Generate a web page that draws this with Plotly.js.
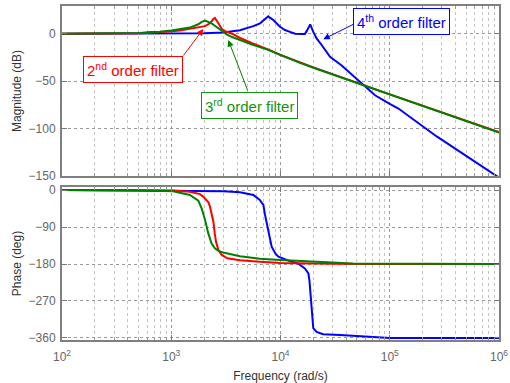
<!DOCTYPE html>
<html>
<head>
<meta charset="utf-8">
<script src="https://cdn.plot.ly/plotly-3.0.1.min.js"></script>
<style>html,body{margin:0;padding:0;background:#fff;}#chart{width:510px;height:383px;}</style>
</head>
<body>
<div id="chart"></div>
<script>
// ---- Data (frequency in rad/s) ----
// 2nd order filter (red)
const fMag2 = [100, 340, 517, 640, 789, 1000, 1200, 1480, 1800, 2040, 2260, 2340, 2430, 2510, 2600, 2700, 2900, 3210, 3600, 4270, 5500, 7700, 10000, 15070, 20000, 100000, 1000000];
const mag2  = [0, 0, 0.5, 1, 1.5, 2.5, 3.5, 5, 6.5, 8, 11, 13.4, 15.5, 16.7, 14.5, 11, 5, 2.1, 0, -4.5, -10, -16.5, -22.5, -30.5, -35.5, -64, -104];
const fPh2  = [100, 1040, 1480, 1830, 1960, 2190, 2260, 2350, 2430, 2500, 2570, 2700, 2900, 3260, 4260, 6460, 10000, 20000, 50000, 1000000];
const ph2   = [0, -1, -4, -10, -16, -30, -40, -58, -77, -105, -126, -146, -158, -166, -171, -174.5, -177.5, -179, -180, -180];

// 3rd order filter (green)
const fMag3 = [100, 340, 517, 640, 789, 1000, 1200, 1480, 1770, 1900, 2040, 2200, 2340, 2510, 2700, 2900, 3210, 3600, 4270, 5500, 7700, 10000, 15070, 20000, 100000, 1000000];
const mag3  = [0, 0, 0.7, 1.8, 2, 3.5, 5, 6.5, 10, 12.5, 14, 12.5, 11, 8.5, 5.7, 3, -0.6, -3.5, -6.8, -11.5, -17, -22.5, -30.8, -36, -64.3, -104.3];
const fPh3  = [100, 500, 1040, 1480, 1770, 1900, 2040, 2180, 2340, 2510, 2700, 2990, 4260, 6460, 10000, 25000, 46000, 1000000];
const ph3   = [0, -0.5, -3, -12, -26, -45, -73, -105, -130, -142, -148, -152, -161, -167, -170, -174.5, -179, -180];

// 4th order filter (blue)
const fMag4 = [100, 1000, 2000, 3000, 3500, 4260, 5260, 5640, 6500, 7200, 7730, 8000, 8600, 9890, 11000, 12200, 13600, 15600, 16700, 17400, 18000, 18700, 19950, 21400, 23800, 28400, 36300, 55300, 73300, 100000, 120000, 269000, 1000000];
const mag4  = [0, 0.2, 0.5, 1.4, 2.3, 3.7, 7, 8, 11, 15, 18.5, 17, 14.5, 7.4, 3.9, 2, 0, -0.3, -0.3, 3, 6, 9.8, 2, -4.9, -11.9, -24.4, -33.5, -53, -65, -74, -79, -108.5, -152];
const fPh4  = [100, 2000, 3000, 4260, 5640, 6460, 6970, 7210, 7480, 8000, 8300, 9000, 9560, 12200, 14600, 16700, 18000, 18400, 18900, 19400, 19950, 21400, 24500, 35100, 70600, 100000, 1000000];
const ph4   = [0, -1.5, -3, -5.5, -12, -24, -36, -60, -80, -118, -138, -155, -162, -173, -179, -191, -203, -220, -255, -300, -336, -345, -351, -353, -357, -360, -360];

// Axis ticks
const freqTicks = [100, 1000, 10000, 100000, 1000000];
const freqTickText = ['10<sup>2</sup>', '10<sup>3</sup>', '10<sup>4</sup>', '10<sup>5</sup>', '10<sup>6</sup>'];
const magTicks = [0, -50, -100, -150];
const phaseTicks = [0, -90, -180, -270, -360];
const minorFreq = [];
for (let d = 100; d < 1000000; d *= 10) { for (let k = 2; k <= 9; k++) minorFreq.push(k * d); }

// Labels
const labels = {
  mag: 'Magnitude (dB)', phase: 'Phase (deg)', freq: 'Frequency (rad/s)',
  o2: '2<sup>nd</sup> order filter', o3: '3<sup>rd</sup> order filter', o4: '4<sup>th</sup> order filter'
};

const RED = '#ff0000', GREEN = '#008000', BLUE = '#0000ff';
const FONT = 'Liberation Sans, Arial, sans-serif';

function line(x, y, color, xa, ya) {
  return {x: x, y: y, type: 'scatter', mode: 'lines', line: {color: color, width: 2}, xaxis: xa, yaxis: ya, hoverinfo: 'skip'};
}

const data = [
  line(fMag4, mag4, BLUE, 'x', 'y'),
  line(fMag2, mag2, RED, 'x', 'y'),
  line(fMag3, mag3, GREEN, 'x', 'y'),
  line(fPh4, ph4, BLUE, 'x2', 'y2'),
  line(fPh2, ph2, RED, 'x2', 'y2'),
  line(fPh3, ph3, GREEN, 'x2', 'y2')
];

const tickFont = {family: FONT, size: 12, color: '#666'};
const titleFont = {family: FONT, size: 12, color: '#333'};

function xAxis(anchor, showLabels) {
  return {
    type: 'log', range: [2, 6], anchor: anchor,
    tickmode: 'array', tickvals: freqTicks, ticktext: freqTickText,
    showticklabels: showLabels, tickfont: tickFont, ticklabelstandoff: 5,
    ticks: 'inside', ticklen: 5, tickcolor: '#777', mirror: 'allticks',
    showline: true, linecolor: '#808080', linewidth: 2,
    showgrid: true, gridcolor: '#999', griddash: 'dot', gridwidth: 1,
    minor: {tickmode: 'array', tickvals: minorFreq, ticks: 'inside', ticklen: 3, tickcolor: '#999',
            showgrid: true, gridcolor: '#c4c4c4', griddash: 'dot', gridwidth: 1},
    zeroline: false, fixedrange: true
  };
}
function yAxis(anchor, domain, range, ticks, title) {
  return {
    anchor: anchor, domain: domain, range: range,
    tickmode: 'array', tickvals: ticks, tickfont: tickFont, ticklabelstandoff: 2,
    ticks: 'inside', ticklen: 5, tickcolor: '#777', mirror: 'allticks',
    showline: true, linecolor: '#808080', linewidth: 2,
    showgrid: true, gridcolor: '#999', griddash: 'dot', gridwidth: 1,
    zeroline: false, fixedrange: true,
    title: {text: title, font: titleFont, standoff: 4}
  };
}

const xa2 = xAxis('y2', true);
xa2.title = {text: labels.freq, font: titleFont, standoff: 8};

function box(text, xl, y, color) {
  return {xref: 'x', yref: 'y', x: xl, y: y, text: text, showarrow: false,
          font: {family: FONT, size: 15, color: color}, bgcolor: '#fff',
          bordercolor: color, borderwidth: 1, borderpad: 3};
}
function arrow(xl, y, ax, ay, color) {
  return {xref: 'x', yref: 'y', x: xl, y: y, ax: ax, ay: ay, text: '', showarrow: true,
          arrowhead: 2, arrowsize: 1.3, arrowwidth: 1, arrowcolor: color};
}

const layout = {
  width: 510, height: 383,
  margin: {l: 62, r: 11, t: 6, b: 43},
  paper_bgcolor: '#fff', plot_bgcolor: '#fff',
  showlegend: false,
  font: {family: FONT},
  xaxis: Object.assign(xAxis('y', false), {matches: 'x2'}),
  yaxis: yAxis('x', [0.491, 1], [-150.3, 29.3], magTicks, labels.mag),
  xaxis2: xa2,
  yaxis2: yAxis('x2', [0, 0.458], [-364.9, 7.3], phaseTicks, labels.phase),
  annotations: [
    arrow(3.2934, 5.0, -21, 28, RED),
    arrow(3.5222, -6.65, 20, 52, GREEN),
    arrow(4.3918, -5.9, 32, -16, BLUE),
    box(labels.o2, 2.653, -37.5, RED),
    box(labels.o3, 3.716, -75.8, '#129412'),
    box(labels.o4, 5.112, 12.9, BLUE)
  ]
};

Plotly.newPlot('chart', data, layout, {staticPlot: true, displayModeBar: false});
</script>
</body>
</html>
